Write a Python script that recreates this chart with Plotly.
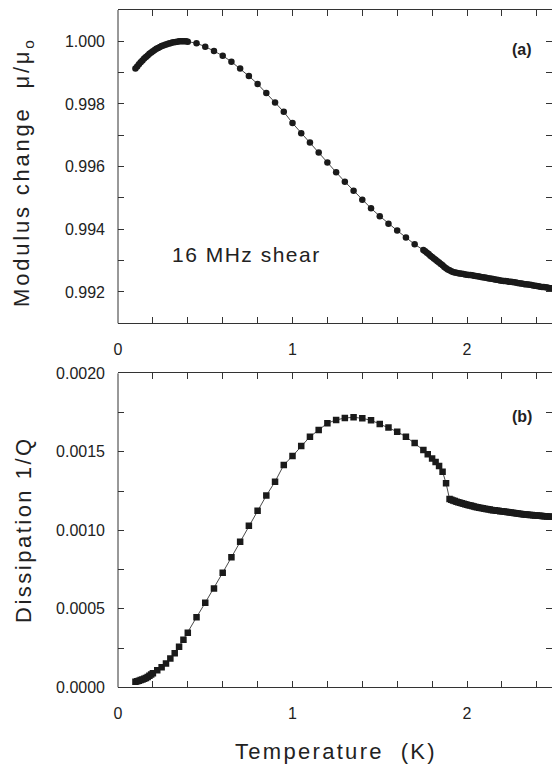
import plotly.graph_objects as go

# ---------------- data ----------------
temp_a = [0.10, 0.11, 0.12, 0.13, 0.14, 0.15, 0.16, 0.17, 0.18, 0.19, 0.20, 0.21, 0.22, 0.23, 0.24, 0.25,
          0.26, 0.27, 0.28, 0.29, 0.30, 0.31, 0.32, 0.33, 0.34, 0.35, 0.36, 0.37, 0.38, 0.39, 0.40,
          0.45, 0.50, 0.55, 0.60, 0.65, 0.70, 0.75, 0.80, 0.85, 0.90, 0.95, 1.00, 1.05, 1.10, 1.15, 1.20,
          1.25, 1.30, 1.35, 1.40, 1.45, 1.50, 1.55, 1.60, 1.65, 1.70,
          1.75, 1.76, 1.77, 1.78, 1.79, 1.80, 1.81, 1.82, 1.83, 1.84, 1.85, 1.86, 1.87, 1.88, 1.89, 1.90,
          1.91, 1.92, 1.93, 1.94, 1.95, 1.96, 1.97, 1.98, 1.99, 2.00, 2.01, 2.02, 2.03, 2.04, 2.05, 2.06,
          2.07, 2.08, 2.09, 2.10, 2.11, 2.12, 2.13, 2.14, 2.15, 2.16, 2.17, 2.18, 2.19, 2.20, 2.21, 2.22,
          2.23, 2.24, 2.25, 2.26, 2.27, 2.28, 2.29, 2.30, 2.31, 2.32, 2.33, 2.34, 2.35, 2.36, 2.37, 2.38,
          2.39, 2.40, 2.41, 2.42, 2.43, 2.44, 2.45, 2.46, 2.47, 2.48, 2.49]
modulus = [0.99913, 0.99920, 0.99927, 0.99933, 0.99939, 0.99945, 0.99950, 0.99955, 0.99960, 0.99964,
           0.99968, 0.99972, 0.99976, 0.99979, 0.99982, 0.99985, 0.99987, 0.99989, 0.99991, 0.99993,
           0.99994, 0.99996, 0.99997, 0.99998, 0.99999, 1.00000, 1.00000, 1.00000, 1.00000, 1.00000, 0.99999,
           0.99994, 0.99983, 0.99969, 0.99954, 0.99935, 0.99913, 0.99889, 0.99864, 0.99835, 0.99805,
           0.99775, 0.99739, 0.99707, 0.99677, 0.99645, 0.99613, 0.99582, 0.99552, 0.99523, 0.99494,
           0.99467, 0.99442, 0.99418, 0.99396, 0.99374, 0.99352,
           0.99334, 0.99330, 0.99325, 0.99321, 0.99316, 0.99312, 0.99307, 0.99303, 0.99298, 0.99294,
           0.99289, 0.99285, 0.99280, 0.99276, 0.99272, 0.99269, 0.99266, 0.99264, 0.99262, 0.99261,
           0.99260, 0.99259, 0.99258, 0.99257, 0.99256, 0.99255, 0.99254, 0.99254, 0.99253, 0.99252,
           0.99251, 0.99250, 0.99249, 0.99248, 0.99247, 0.99246, 0.99245, 0.99244, 0.99243, 0.99242,
           0.99241, 0.99240, 0.99239, 0.99238, 0.99237, 0.99236, 0.99235, 0.99235, 0.99234, 0.99233,
           0.99233, 0.99232, 0.99231, 0.99230, 0.99229, 0.99228, 0.99227, 0.99226, 0.99225, 0.99225,
           0.99224, 0.99223, 0.99222, 0.99221, 0.99220, 0.99219, 0.99218, 0.99217, 0.99216, 0.99216,
           0.99215, 0.99214, 0.99213, 0.99212, 0.99211]

temp_b = [0.10, 0.11, 0.12, 0.13, 0.14, 0.15, 0.16, 0.17, 0.18, 0.19, 0.20,
          0.225, 0.25, 0.275, 0.30, 0.325, 0.35, 0.375, 0.40,
          0.45, 0.50, 0.55, 0.60, 0.65, 0.70, 0.75, 0.80, 0.85, 0.90, 0.95, 1.00, 1.05, 1.10, 1.15, 1.20,
          1.25, 1.30, 1.35, 1.40, 1.45, 1.50, 1.55, 1.60, 1.65, 1.70,
          1.75, 1.775, 1.80, 1.82, 1.84, 1.86, 1.88, 1.90,
          1.91, 1.92, 1.93, 1.94, 1.95, 1.96, 1.97, 1.98, 1.99, 2.00, 2.01, 2.02, 2.03, 2.04, 2.05, 2.06,
          2.07, 2.08, 2.09, 2.10, 2.11, 2.12, 2.13, 2.14, 2.15, 2.16, 2.17, 2.18, 2.19, 2.20, 2.21, 2.22,
          2.23, 2.24, 2.25, 2.26, 2.27, 2.28, 2.29, 2.30, 2.31, 2.32, 2.33, 2.34, 2.35, 2.36, 2.37, 2.38,
          2.39, 2.40, 2.41, 2.42, 2.43, 2.44, 2.45, 2.46, 2.47, 2.48]
dissipation = [0.000036, 0.000039, 0.000042, 0.000046, 0.000050, 0.000055, 0.000060, 0.000066, 0.000073,
               0.000081, 0.000089,
               0.000108, 0.000127, 0.000152, 0.000183, 0.000217, 0.000258, 0.000303, 0.000348,
               0.000446, 0.000539, 0.000630, 0.000730, 0.000828, 0.000927, 0.001029, 0.001125, 0.001221,
               0.001310, 0.001416, 0.001473, 0.001537, 0.001596, 0.001639, 0.001682, 0.001703, 0.001715,
               0.001720, 0.001713, 0.001701, 0.001677, 0.001654, 0.001628, 0.001596, 0.001556,
               0.001511, 0.001484, 0.001457, 0.001435, 0.001410, 0.001373, 0.001300, 0.001199,
               0.001194, 0.001190, 0.001186, 0.001182, 0.001178, 0.001175, 0.001172, 0.001169, 0.001166,
               0.001163, 0.001160, 0.001158, 0.001155, 0.001152, 0.001149, 0.001147, 0.001144, 0.001142,
               0.001140, 0.001138, 0.001136, 0.001134, 0.001132, 0.001130, 0.001128, 0.001127, 0.001125,
               0.001124, 0.001122, 0.001121, 0.001119, 0.001118, 0.001116, 0.001115, 0.001113, 0.001112,
               0.001110, 0.001109, 0.001107, 0.001106, 0.001104, 0.001103, 0.001101, 0.001100, 0.001099,
               0.001098, 0.001097, 0.001096, 0.001095, 0.001094, 0.001093, 0.001092, 0.001091, 0.001090,
               0.001089, 0.001088, 0.001088, 0.001087]

x_ticks = [0, 1, 2]
x_ticklabels = ["0", "1", "2"]
ya_ticks = [0.992, 0.994, 0.996, 0.998, 1.000]
ya_ticklabels = ["0.992", "0.994", "0.996", "0.998", "1.000"]
yb_ticks = [0.0, 0.0005, 0.0010, 0.0015, 0.0020]
yb_ticklabels = ["0.0000", "0.0005", "0.0010", "0.0015", "0.0020"]

# ---------------- figure ----------------
W, H = 552, 764
ML = 118
FONT = "Liberation Sans, Arial, sans-serif"
TXT = "#222222"
INK = "#1a1a1a"

def py(px):  # pixel row -> paper y
    return 1 - px / H

def spaced(s, ls):
    return f'<span style="letter-spacing:{ls}px">{s}</span>'

fig = go.Figure()
fig.add_trace(go.Scatter(x=temp_a, y=modulus, mode="lines+markers", xaxis="x", yaxis="y",
                         line=dict(color=INK, width=0.8),
                         marker=dict(symbol="circle", size=6.5, color=INK), showlegend=False))
fig.add_trace(go.Scatter(x=temp_b, y=dissipation, mode="lines+markers", xaxis="x2", yaxis="y2",
                         line=dict(color=INK, width=0.8),
                         marker=dict(symbol="square", size=6.5, color=INK), showlegend=False))

xr = [0, (W - ML) / 174.5]
common_x = dict(range=xr, showline=True, linecolor="#333", linewidth=1, mirror="ticks",
                ticks="inside", ticklen=6, tickcolor="#333", tickwidth=1, automargin=False,
                tickvals=x_ticks, ticktext=x_ticklabels, showgrid=False, zeroline=False,
                tickfont=dict(family=FONT, size=16, color=TXT), ticklabelstandoff=11,
                minor=dict(dtick=0.2, tick0=0, ticks="inside", ticklen=6, tickcolor="#333", showgrid=False))
common_y = dict(showline=False, mirror="ticks", ticks="inside", ticklen=6, tickcolor="#333", tickwidth=1,
                showgrid=False, zeroline=False, automargin=False,
                tickfont=dict(family=FONT, size=16, color=TXT), ticklabelstandoff=12)

fig.update_layout(
    width=W, height=H,
    margin=dict(l=ML, r=0, t=0, b=0, autoexpand=False),
    paper_bgcolor="white", plot_bgcolor="white",
    font=dict(family=FONT, color=TXT),
    xaxis=dict(domain=[0, 1], anchor="y", **common_x),
    xaxis2=dict(domain=[0, 1], anchor="y2", **common_x),
    yaxis=dict(domain=[py(323.3), py(10)], anchor="x", range=[0.991, 1.001],
               tickvals=ya_ticks, ticktext=ya_ticklabels,
               minor=dict(dtick=0.001, tick0=0.991, ticks="inside", ticklen=6, tickcolor="#333", showgrid=False),
               **common_y),
    yaxis2=dict(domain=[py(687.3), py(373.3)], anchor="x2", range=[0, 0.002],
                tickvals=yb_ticks, ticktext=yb_ticklabels,
                minor=dict(dtick=0.00025, tick0=0, ticks="inside", ticklen=6, tickcolor="#333", showgrid=False),
                **common_y),
)

# left frame lines
for yr in ("y domain", "y2 domain"):
    fig.add_shape(type="line", xref="x domain", yref=yr, x0=0, x1=0, y0=0, y1=1,
                  line=dict(color="#333", width=1), layer="above")

def px_x(px):
    return (px - ML) / (W - ML)

ann = []
ann.append(dict(text=spaced("Modulus change  μ/μ<sub>o</sub>", 2.8), x=px_x(23), y=py(172),
                xref="paper", yref="paper", textangle=-90, showarrow=False,
                xanchor="center", yanchor="middle", font=dict(family=FONT, size=22, color=TXT)))
ann.append(dict(text=spaced("Dissipation 1/Q", 2.5), x=px_x(23), y=py(530),
                xref="paper", yref="paper", textangle=-90, showarrow=False,
                xanchor="center", yanchor="middle", font=dict(family=FONT, size=22, color=TXT)))
ann.append(dict(text=spaced("Temperature  (K)", 2.3), x=px_x(336), y=py(751),
                xref="paper", yref="paper", showarrow=False,
                xanchor="center", yanchor="middle", font=dict(family=FONT, size=22, color=TXT)))
ann.append(dict(text=spaced("16 MHz shear", 1.5), x=px_x(246), y=py(255),
                xref="paper", yref="paper", showarrow=False,
                xanchor="center", yanchor="middle", font=dict(family=FONT, size=21, color=TXT)))
ann.append(dict(text="<b>(a)</b>", x=px_x(522), y=py(49), xref="paper", yref="paper", showarrow=False,
                xanchor="center", yanchor="middle", font=dict(family=FONT, size=16, color=TXT)))
ann.append(dict(text="<b>(b)</b>", x=px_x(522), y=py(417), xref="paper", yref="paper", showarrow=False,
                xanchor="center", yanchor="middle", font=dict(family=FONT, size=16, color=TXT)))
fig.update_layout(annotations=ann)

fig.write_html("out.html", config={"displayModeBar": False},
               post_script="document.body.style.margin='0';")
